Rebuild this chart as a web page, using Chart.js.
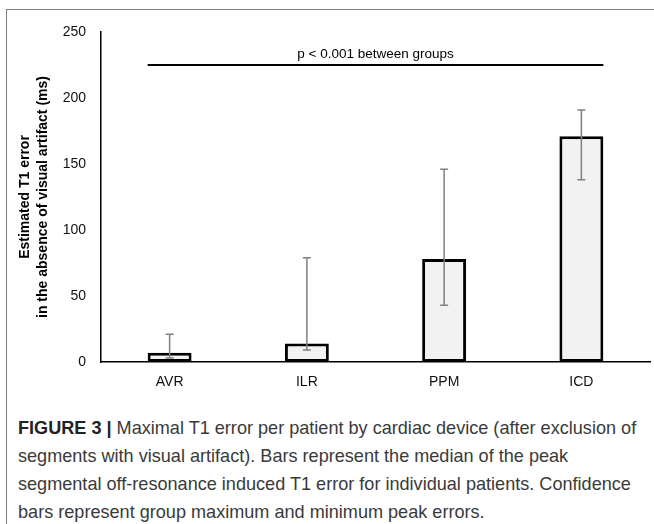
<!DOCTYPE html>
<html>
<head>
<meta charset="utf-8">
<script src="https://cdn.jsdelivr.net/npm/chart.js@4/dist/chart.umd.min.js"></script>
<style>
  body { margin: 0; background: #fff; }
  #wrap { position: relative; width: 654px; height: 524px; overflow: hidden; }
  #frameTop { position: absolute; left: 7px; top: 9px; width: 660px; height: 0; border-top: 1.5px solid #808080; }
  #frameLeft { position: absolute; left: 6px; top: 9px; width: 0; height: 530px; border-left: 1.5px solid #808080; }
  #myChart { position: absolute; left: 0; top: 0; }
  #caption {
    position: absolute; left: 18px; top: 414px; width: 640px;
    font-family: "Liberation Sans", Arial, sans-serif; font-size: 18.1px;
    line-height: 28px; color: #3a3a3a; white-space: nowrap;
  }
  #caption b { color: #222; }
</style>
</head>
<body>
<div id="wrap">
  <div id="frameTop"></div>
  <div id="frameLeft"></div>
  <canvas id="myChart" width="654" height="400"></canvas>
  <div id="caption"><b>FIGURE 3 |</b> Maximal T1 error per patient by cardiac device (after exclusion of<br>segments with visual artifact). Bars represent the median of the peak<br>segmental off-resonance induced T1 error for individual patients. Confidence<br>bars represent group maximum and minimum peak errors.</div>
</div>
<script>
const devices = ["AVR", "ILR", "PPM", "ICD"];
const medianError = [7, 14, 78, 171];
const maxError = [21, 79, 146, 191];
const minError = [3, 9, 43, 138];
const yTicks = [0, 50, 100, 150, 200, 250];
const sigLevel = 225;
const sigLabel = "p < 0.001 between groups";

const errorBars = {
  id: "errorBars",
  afterDatasetsDraw(chart) {
    const ctx = chart.ctx;
    const x = chart.scales.x;
    const y = chart.scales.y;
    const bars = chart.getDatasetMeta(0).data;

    ctx.save();
    ctx.strokeStyle = "#808080";
    ctx.lineWidth = 1.5;
    devices.forEach((d, i) => {
      const cx = x.getPixelForValue(i);
      const top = y.getPixelForValue(maxError[i]);
      const bot = y.getPixelForValue(minError[i]);
      ctx.beginPath();
      ctx.moveTo(cx, top);
      ctx.lineTo(cx, bot);
      ctx.moveTo(cx - 4, top);
      ctx.lineTo(cx + 4, top);
      ctx.moveTo(cx - 4, bot);
      ctx.lineTo(cx + 4, bot);
      ctx.stroke();
    });

    // significance bracket across all groups
    const first = bars[0];
    const last = bars[bars.length - 1];
    const x1 = first.x - first.width / 2;
    const x2 = last.x + last.width / 2;
    const ly = y.getPixelForValue(sigLevel);
    ctx.strokeStyle = "#000";
    ctx.lineWidth = 2;
    ctx.beginPath();
    ctx.moveTo(x1, ly);
    ctx.lineTo(x2, ly);
    ctx.stroke();
    ctx.fillStyle = "#000";
    ctx.font = "13.5px 'Liberation Sans', Arial, sans-serif";
    ctx.textAlign = "center";
    ctx.textBaseline = "middle";
    ctx.fillText(sigLabel, (x1 + x2) / 2, ly - 11);
    ctx.restore();
  },
};

new Chart("myChart", {
  type: "bar",
  data: {
    labels: devices,
    datasets: [
      {
        data: medianError,
        backgroundColor: "#f2f2f2",
        borderColor: "#000",
        borderWidth: 3,
        borderSkipped: false,
        barPercentage: 1,
        categoryPercentage: 0.32,
      },
    ],
  },
  options: {
    responsive: false,
    animation: false,
    devicePixelRatio: 1,
    layout: { padding: { top: 32, right: 4, left: 0, bottom: 0 } },
    plugins: {
      legend: { display: false },
      tooltip: { enabled: false },
    },
    scales: {
      x: {
        grid: { display: false, drawTicks: false },
        border: { display: true, color: "#000", width: 1.5 },
        ticks: {
          color: "#111",
          padding: 12,
          font: { family: "'Liberation Sans', Arial, sans-serif", size: 14 },
        },
        afterFit(scale) { scale.height = 38; },
      },
      y: {
        min: 0,
        max: 250,
        grid: { display: false, drawTicks: false },
        border: { display: true, color: "#000", width: 1.5 },
        afterBuildTicks(scale) { scale.ticks = yTicks.map(v => ({ value: v })); },
        ticks: {
          color: "#111",
          padding: 15,
          font: { family: "'Liberation Sans', Arial, sans-serif", size: 14 },
        },
        title: {
          display: true,
          text: ["Estimated T1 error", "in the absence of visual artifact (ms)"],
          color: "#000",
          padding: { top: 16, bottom: 0 },
          font: { family: "'Liberation Sans', Arial, sans-serif", size: 14, weight: "bold", lineHeight: 1.29 },
        },
        afterFit(scale) { scale.width = 101; },
      },
    },
  },
  plugins: [errorBars],
});
</script>
</body>
</html>
